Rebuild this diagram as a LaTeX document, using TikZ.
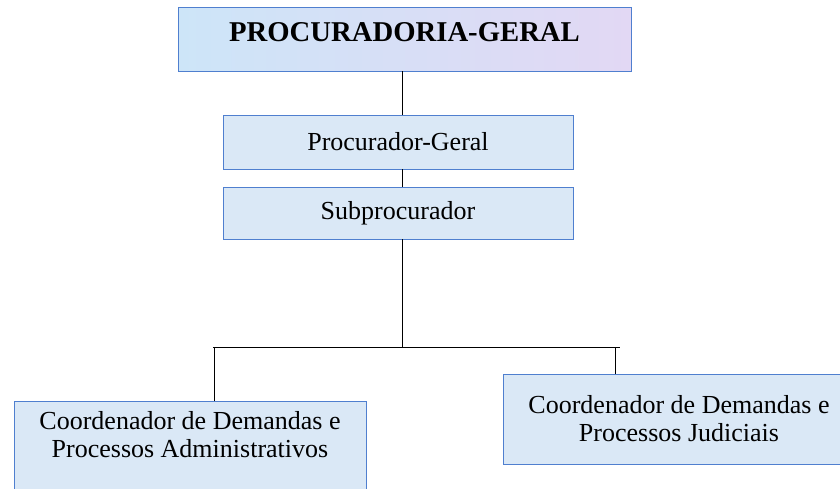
\documentclass[tikz,border=0pt]{standalone}
\usepackage{fontspec}
\setmainfont{Liberation Serif}
\usetikzlibrary{positioning}

\definecolor{boxline}{HTML}{4F7FCF}
\definecolor{tissue}{HTML}{DAE8F6}
\definecolor{tissuecyan}{HTML}{CDE5F8}
\definecolor{tissuepink}{HTML}{E2D8F4}

\begin{document}
\begin{tikzpicture}[x = 1pt, y = -1pt, on grid,
                    line width = 1pt,
                    post/.style = {rectangle,
                                   draw = boxline,
                                   line width = 0.9pt,
                                   fill = tissue,
                                   text = black,
                                   inner sep = 0pt,
                                   align = center,
                                   minimum width = 350pt,
                                   font = \fontsize{26}{28}\selectfont},
                    head/.style = {post,
                                   minimum width = 453pt,
                                   minimum height = 64pt,
                                   fill = none,
                                   preaction = {left color = tissuecyan,
                                                right color = tissuepink},
                                   text depth = 14pt,
                                   font = \bfseries\fontsize{28.7}{30}\selectfont}]

\useasboundingbox (0,0) rectangle (840,488);

\node[head] (pg) at (404.5,39) {PROCURADORIA-GERAL};

\node[post, minimum height = 54pt] (proc) at (398,142) {Procurador-Geral};
\node[post, minimum height = 52pt] (sub) [below = 71pt of proc] {Subprocurador};

\node[post, minimum width = 352pt, anchor = north,
      inner ysep = 10pt, text depth = 80pt] (adm) at (190,401)
     {Coordenador de Demandas e\\ Processos Administrativos};
\node[post, minimum width = 352pt, minimum height = 90pt] (jud) at (679,419)
     {Coordenador de Demandas e\\ Processos Judiciais};

\coordinate (spine) at (402,0);
\coordinate (bus)   at (402,347);
\coordinate (busL)  at (213,347);
\coordinate (busR)  at (620,347);
\coordinate (dropL) at (214,347);
\coordinate (dropR) at (615,347);

\draw (pg.south -| spine) -- (proc.north -| spine);
\draw (proc.south -| spine) -- (sub.north -| spine);
\draw (sub.south -| spine) -- (bus);
\draw (busL) -- (busR);
\draw (dropL) -- (adm.north -| dropL);
\draw (dropR) -- (jud.north -| dropR);

\end{tikzpicture}
\end{document}
